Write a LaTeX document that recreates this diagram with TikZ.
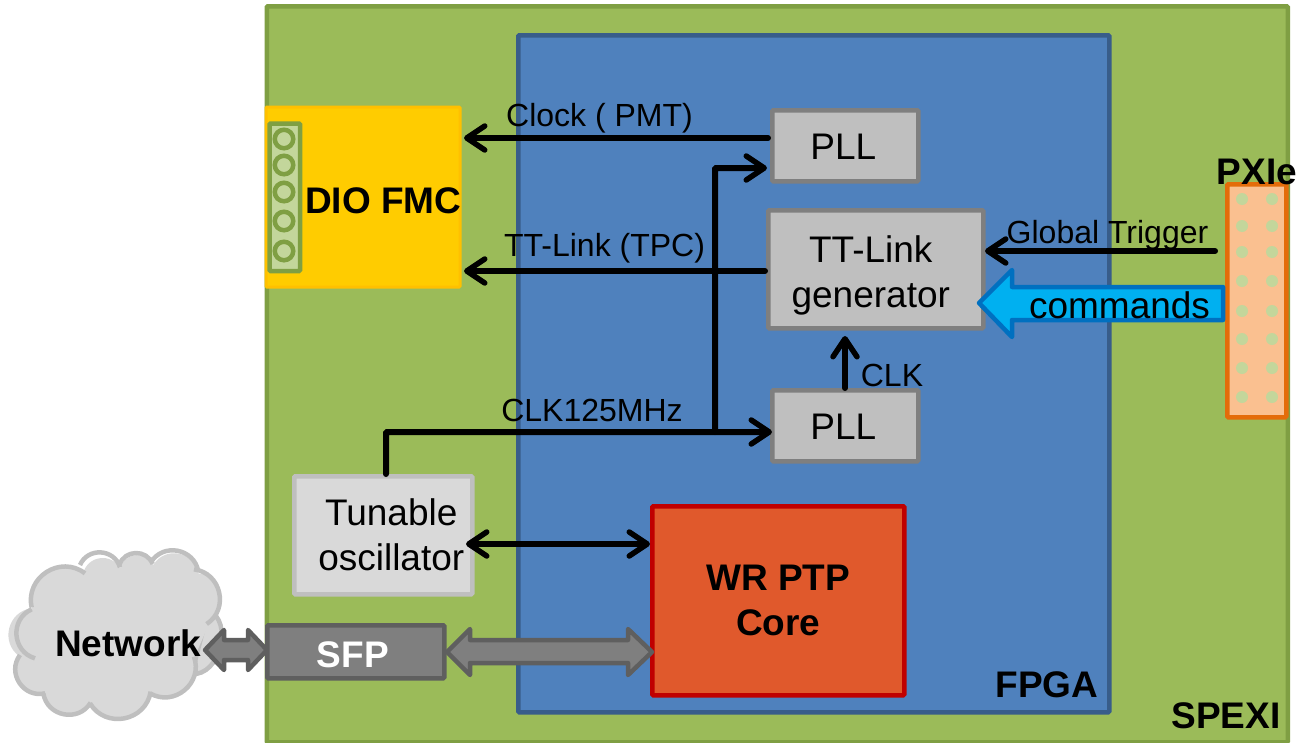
\documentclass[tikz,border=0pt]{standalone}
\usepackage{fontspec}
\setmainfont{Liberation Sans}
\usetikzlibrary{arrows.meta}
\definecolor{boardG}{HTML}{9BBB59}
\definecolor{boardE}{HTML}{7F9F43}
\definecolor{fpgaF}{HTML}{4F81BD}
\definecolor{fpgaE}{HTML}{385D8A}
\definecolor{fmcF}{HTML}{FFCC00}
\definecolor{fmcE}{HTML}{FFC000}
\definecolor{pllF}{HTML}{BFBFBF}
\definecolor{pllE}{HTML}{7F7F7F}
\definecolor{oscF}{HTML}{D9D9D9}
\definecolor{oscE}{HTML}{BFBFBF}
\definecolor{wrF}{HTML}{E0592C}
\definecolor{wrE}{HTML}{C00000}
\definecolor{sfpE}{HTML}{5F5F5F}
\definecolor{pxF}{HTML}{FAC090}
\definecolor{pxE}{HTML}{E46C0A}
\definecolor{pinF}{HTML}{C3D69B}
\definecolor{cmdF}{HTML}{00B0F0}
\definecolor{cmdE}{HTML}{0070C0}
\tikzset{
 x=1pt,y=-1pt,
 block/.style={draw,line width=4.5pt,rounded corners=1pt,inner sep=0pt,anchor=north west,align=center,font=\fontsize{37}{45}\selectfont},
 lab/.style={font=\fontsize{32}{36}\selectfont,inner sep=0pt,text=black},
 bold/.style={font=\fontsize{37}{46}\selectfont\bfseries,inner sep=0pt,align=center},
 wire/.style={line width=6pt,black,line cap=round},
 arr/.style={wire,-{Straight Barb[length=18pt,width=24pt,line width=5.5pt,round]}},
 darr/.style={wire,{Straight Barb[length=18pt,width=24pt,line width=5.5pt,round]}-{Straight Barb[length=18pt,width=24pt,line width=5.5pt,round]}},
 lobe/.style={bend left=70,looseness=1.25},
 pin/.style={circle,fill=pinF,minimum size=12pt,inner sep=0pt},
 ring/.style={circle,draw=boardE,fill=pinF,line width=4.5pt,minimum size=18.5pt,inner sep=0pt},
}
\begin{document}
\begin{tikzpicture}
\useasboundingbox (0,0) rectangle (1297,742);
% board
\node[block,draw=boardE,fill=boardG,minimum width=1021pt,minimum height=736pt] (board) at (264.5,4) {};
\node[block,draw=fpgaE,fill=fpgaF,minimum width=591pt,minimum height=677pt] (fpga) at (516,33) {};
\node[bold] (spexi) at (1226,716) {SPEXI};
\node[bold] (fpgal) at (1047,685) {FPGA};
% cloud
\begin{scope}[shift={(0,530)},x=0.3333pt,y=-0.3333pt]
\path[fill=oscF,draw=oscE,line width=4.5pt] (625,240) to[bend left=80,looseness=1.1] (575,432) -- cycle;
\fill[oscF] (95,235) to[lobe] (250,130) to[lobe] (360,115) to[lobe] (460,105) to[lobe] (595,130) to[lobe] (630,275) -- (582,385)
  to[lobe] (450,490) to[lobe] (270,520) to[lobe] (130,495) to[lobe] (60,380) to[lobe] (95,235) -- cycle;
\draw[oscE,line width=4.5pt,line join=round]
  (95,232) to[lobe] (255,130)
  (240,105) to[lobe] (360,112)
  (358,105) to[lobe] (458,102)
  (452,98) to[lobe] (595,125)
  (582,118) to[lobe] (620,282)
  (582,380) to[lobe] (450,490)
  (452,485) to[lobe] (270,520)
  (272,518) to[lobe] (130,490)
  (135,490) to[lobe] (60,375)
  (105,385) to[lobe] (95,238);
\end{scope}
\node[bold] (network) at (128,643) {Network};
% arrows behind
\filldraw[fill=pllE,draw=sfpE,line width=4.5pt,line join=round] (205,650) -- (224,630) -- (224,640) -- (248,640) -- (248,630) -- (267,650) -- (248,670) -- (248,660) -- (224,660) -- (224,670) -- cycle;
% SFP
\node[block,draw=sfpE,fill=pllE,minimum width=177pt,minimum height=53pt,font=\fontsize{37}{46}\selectfont\bfseries,text=white] (sfp) at (265,623) {\rule{0pt}{32pt}SFP\hspace*{6pt}};
% WR core
\node[block,draw=wrE,fill=wrF,minimum width=252pt,minimum height=189pt,font=\fontsize{37}{46}\selectfont\bfseries] (wr) at (650,504) {WR PTP\\[-1pt]Core};
\filldraw[fill=pllE,draw=sfpE,line width=4.5pt,line join=round] (447,652) -- (470,629) -- (470,640) -- (628,640) -- (628,629) -- (652,652) -- (628,675) -- (628,663) -- (470,663) -- (470,675) -- cycle;
% FMC
\node[block,draw=fmcE,fill=fmcF,minimum width=194pt,minimum height=180pt,line width=3pt] (fmc) at (264.5,105.5) {};
\node[bold,anchor=west] (fmcl) at (305,201) {DIO FMC};
\draw[boardE,fill=pinF,line width=4.5pt,rounded corners=1pt] (269.5,123.5) rectangle (300,271);
\foreach \n/\y in {a/139,b/165,c/192,d/221,e/251}{\node[ring] (ring\n) at (284,\y) {};}
% PLL / blocks
\node[block,draw=pllE,fill=pllF,minimum width=146pt,minimum height=71pt] (pll1) at (770,108) {\rule{0pt}{28pt}PLL\hspace*{4pt}};
\node[block,draw=pllE,fill=pllF,minimum width=146pt,minimum height=71pt] (pll2) at (770,388) {\rule{0pt}{28pt}PLL\hspace*{4pt}};
\node[block,draw=pllE,fill=pllF,minimum width=215pt,minimum height=118pt] (tt) at (766,208) {\rule{0pt}{40pt}TT-Link\hspace*{10pt}\\generator\hspace*{10pt}};
\node[block,draw=oscE,fill=oscF,minimum width=178pt,minimum height=118pt] (osc) at (292,474) {\hspace*{16pt}Tunable\\\hspace*{16pt}oscillator};
% PXIe
\node[block,draw=pxE,fill=pxF,minimum width=59pt,minimum height=233pt] (pxi) at (1225,182) {};
\foreach \y [count=\i] in {199,226,252,281,311,339,368,397}{
 \node[pin] (pl\i) at (1242,\y) {};
 \node[pin] (pr\i) at (1272,\y) {};
}
\node[bold] (pxil) at (1257,172) {PXIe};
% connectors
\coordinate (cclk) at (715,432);
\coordinate (c125) at (386,432);
\coordinate (ptop) at (715,168);
\coordinate (ttin) at (1215,251);
\coordinate (oscin) at (466,544);
\coordinate (fmcA) at (464,138);
\coordinate (fmcB) at (464,271);
\draw[arr] (768,138) -- (fmcA);
\draw[arr] (765,271) -- (fmcB);
\draw[arr,rounded corners=1pt] (cclk) -- (ptop) -- (767,168);
\draw[arr,rounded corners=1pt] (c125 |- osc.north) -- (c125) -- (772,432);
\draw[arr] (845,388) -- (845,336);
\draw[arr] (ttin) -- (985,251);
\draw[darr] (oscin) -- (wr.west |- 0,544);
% commands arrow
\filldraw[fill=cmdF,draw=cmdE,line width=4.5pt,line join=round] (1223,287) -- (1223,320) -- (1012,320) -- (1012,337) -- (979,303) -- (1012,270) -- (1012,287) -- cycle;
\node[lab,font=\fontsize{37}{45}\selectfont] (cmdl) at (1119.5,305) {commands};
% labels
\node[lab] (l1) at (599.5,118) {Clock ( PMT)};
\node[lab] (l2) at (604.5,248) {TT-Link (TPC)};
\node[lab] (l3) at (592,410) {CLK125MHz};
\node[lab] (l4) at (892,375) {CLK};
\node[lab] (l5) at (1107.5,235) {Global Trigger};
\end{tikzpicture}
\end{document}
